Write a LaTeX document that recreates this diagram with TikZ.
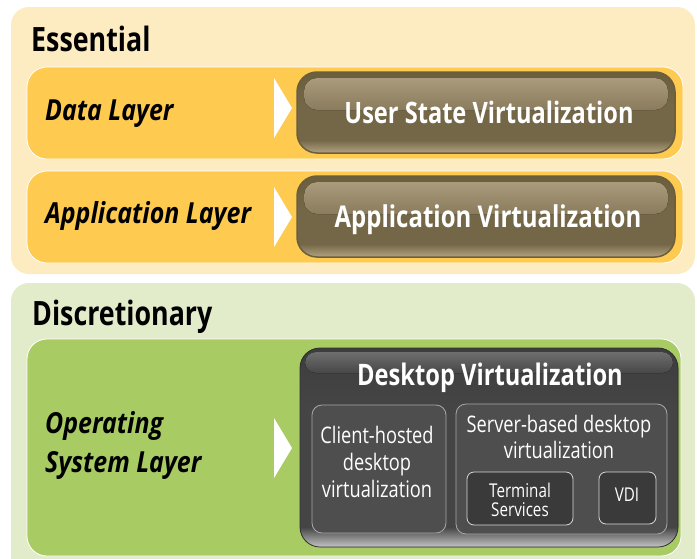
\documentclass[tikz,border=0pt]{standalone}
\usepackage{fontspec}
\newfontfamily\cf{Open Sans}[FakeStretch=0.8]
\newfontfamily\cfi{Open Sans}[FakeStretch=0.86]
\usetikzlibrary{shapes.geometric}
\definecolor{essbg}{HTML}{FDECC2}
\definecolor{yband}{HTML}{FECB50}
\definecolor{disbg}{HTML}{E2ECCB}
\definecolor{gband}{HTML}{A8CB63}
\definecolor{bDark}{HTML}{6B5E3D}
\definecolor{bMid}{HTML}{746747}
\definecolor{bLight}{HTML}{B2A382}
\definecolor{hTop}{HTML}{A99B7B}
\definecolor{hBot}{HTML}{897B5B}
\definecolor{dDark}{HTML}{3D3D3D}
\definecolor{dMid}{HTML}{454545}
\definecolor{dLight}{HTML}{C4C4C4}
\definecolor{dhTop}{HTML}{6E6E6E}
\definecolor{dhBot}{HTML}{474747}
\definecolor{inbox}{HTML}{4E4E4E}
\definecolor{inedge}{HTML}{A8A8A8}
\definecolor{tsbox}{HTML}{3A3A3A}
\pgfdeclareverticalshading{brownbtn}{100bp}{color(0bp)=(bLight); color(25bp)=(bLight); color(33bp)=(bMid); color(55bp)=(bMid); color(75bp)=(bDark); color(100bp)=(bDark)}
\pgfdeclareverticalshading{darkbtn}{100bp}{color(0bp)=(dLight); color(25bp)=(dLight); color(30bp)=(dMid); color(60bp)=(dMid); color(75bp)=(dDark); color(100bp)=(dDark)}
\tikzset{
  outerbox/.style={rounded corners=18pt},
  band/.style={rounded corners=20pt, draw=white, line width=0.8pt},
  brownbox/.style={rounded corners=20pt, shading=brownbtn, draw=bDark, line width=1.5pt},
  hilite/.style={rounded corners=13pt, top color=hTop, bottom color=hBot},
  darkhilite/.style={rounded corners=11pt, top color=dhTop, bottom color=dhBot},
  chev/.style={fill=white},
  headtxt/.style={font=\cf\bfseries\fontsize{33.5}{40}\selectfont, text=black, inner sep=0pt, anchor=base west},
  layertxt/.style={font=\cfi\bfseries\itshape\fontsize{29}{34}\selectfont, text=black, inner sep=0pt, anchor=base west},
  btntxt/.style={font=\cf\bfseries\fontsize{30}{36}\selectfont, text=white, inner sep=0pt, anchor=base},
  smalltxt/.style={font=\cf\fontsize{22.8}{26}\selectfont, text=white, inner sep=0pt, anchor=base},
  tinytxt/.style={font=\cf\fontsize{19}{22}\selectfont, text=white, inner sep=0pt, anchor=base},
  subbox/.style={rounded corners=10pt, fill=inbox, draw=inedge, line width=0.8pt},
  leafbox/.style={rounded corners=7pt, fill=tsbox, draw=white!85!black, line width=0.8pt}
}
\begin{document}
\begin{tikzpicture}[x=1pt,y=-1pt]
\useasboundingbox (0,0) rectangle (697,558);
\clip (0,0) rectangle (697,558);
% Essential
\fill[essbg, outerbox] (11,7) rectangle (695,274);
\node[headtxt] (ess) at (31,51) {Essential};
% Data layer band
\filldraw[yband, band] (27,67) rectangle (683,159);
\fill[brownbox] (297,72) rectangle (675,153);
\fill[hilite] (304,78) rectangle (668,110);
\fill[chev] (274,78) -- (292,108) -- (274,138) -- cycle;
\node[layertxt] (data) at (45,120) {Data Layer};
\node[btntxt, font=\cf\bfseries\fontsize{29.5}{36}\selectfont] (usv) at (489,123) {User State Virtualization};
% Application layer band
\filldraw[yband, band] (27,171) rectangle (683,263);
\fill[brownbox] (297,176) rectangle (675,257);
\fill[hilite] (304,182) rectangle (668,214);
\fill[chev] (274,187) -- (292,217) -- (274,247) -- cycle;
\node[layertxt] (app) at (45,223) {Application Layer};
\node[btntxt] (av) at (488,227) {Application Virtualization};
% Discretionary
\fill[disbg, outerbox] (11,283) rectangle (695,580);
\node[headtxt] (dis) at (32,325) {Discretionary};
\filldraw[gband, band] (27,339) rectangle (681,556);
\fill[chev] (274,418) -- (292,448) -- (274,478) -- cycle;
\node[layertxt] (os1) at (45,433) {Operating};
\node[layertxt] (os2) at (45,472) {System Layer};
% Desktop virtualization
\fill[shading=darkbtn, rounded corners=20pt] (300,348) rectangle (678,547);
\draw[dDark!80!black, rounded corners=20pt, line width=0.8pt] (300,348) rectangle (678,547);
\fill[darkhilite] (305,352) rectangle (673,373);
\node[btntxt, font=\cf\bfseries\fontsize{29.6}{34}\selectfont] (dv) at (490,385) {Desktop Virtualization};
% client hosted
\filldraw[subbox] (312,405) rectangle (446,533);
\node[smalltxt] (ch1) at (377,443) {Client-hosted};
\node[smalltxt] (ch2) at (377,470) {desktop};
\node[smalltxt] (ch3) at (377,497) {virtualization};
% server based
\filldraw[subbox] (456,404) rectangle (667,534);
\node[smalltxt] (sb1) at (559,432) {Server-based desktop};
\node[smalltxt] (sb2) at (559,458) {virtualization};
\filldraw[leafbox] (467,472) rectangle (573,525);
\node[tinytxt] (ts1) at (520,497) {Terminal};
\node[tinytxt] (ts2) at (520,516) {Services};
\filldraw[leafbox] (599,472) rectangle (656,524);
\node[tinytxt] (vdi) at (627,501) {VDI};
\end{tikzpicture}
\end{document}
